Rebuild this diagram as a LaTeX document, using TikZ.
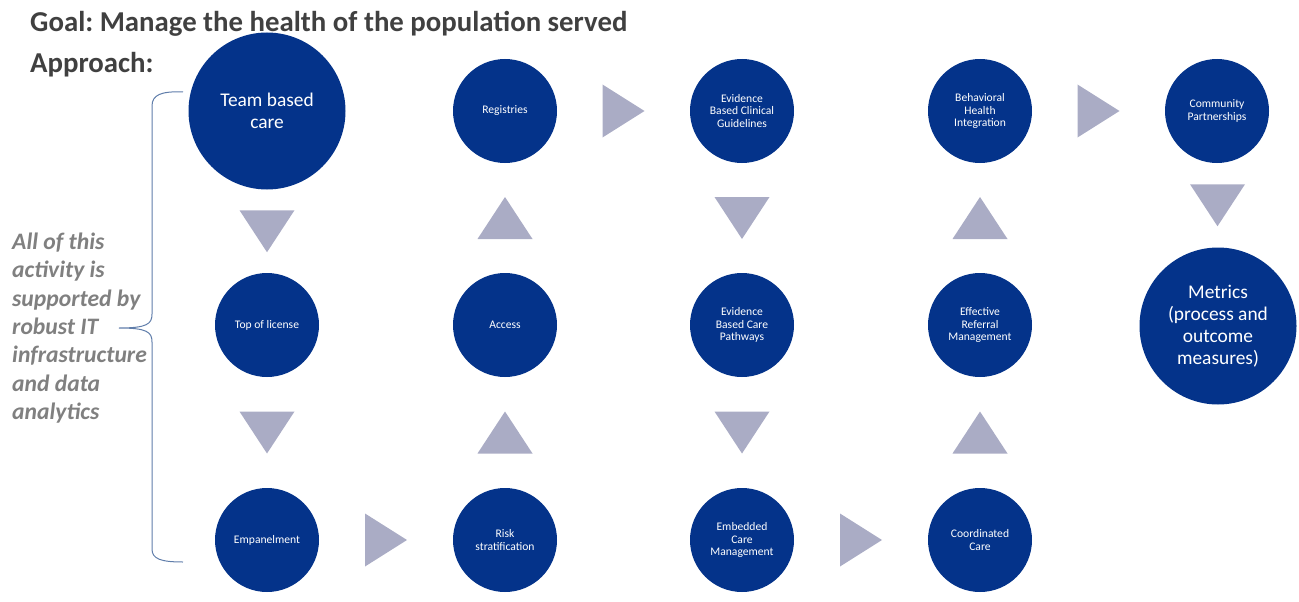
\documentclass[tikz,border=0pt]{standalone}
\usepackage{fontspec}
\setmainfont{Carlito}
\usetikzlibrary{calc}
\frenchspacing

\definecolor{discblue}{RGB}{4,51,138}
\definecolor{arrowgray}{RGB}{170,172,197}
\definecolor{headgray}{RGB}{64,64,64}
\definecolor{notegray}{RGB}{128,128,128}
\definecolor{bracecol}{RGB}{95,125,170}

\tikzset{
  disc/.style={circle, fill=discblue, text=white, inner sep=0pt,
    minimum size=104pt, align=center,
    font=\fontsize{11.6}{12.5}\selectfont},
  bigdisc/.style={disc, minimum size=157pt,
    font=\fontsize{19.4}{22}\selectfont},
  heading/.style={anchor=base west, inner sep=0pt, text=headgray,
    font=\fontsize{28.8}{34}\selectfont\bfseries},
  pics/tridown/.style={code={\fill[arrowgray] (-27.5,-21) -- (27.5,-21) -- (0,21) -- cycle;}},
  pics/triup/.style={code={\fill[arrowgray] (-27.5,21) -- (27.5,21) -- (0,-21) -- cycle;}},
  pics/triright/.style={code={\fill[arrowgray] (-21,-26.5) -- (-21,26.5) -- (21,0) -- cycle;}},
}

\begin{document}
\begin{tikzpicture}[x=1pt, y=-1pt]
  \useasboundingbox (0,0) rectangle (1299,602);

  % headings
  \node[heading] (goal) at (30,32) {Goal: Manage the health of the population served};
  \node[heading] (approach) at (30,73) {Approach:};

  % column 1
  \node[bigdisc] (team) at (267,111) {Team based\\care};
  \node[disc] (license) at (267,325) {Top of license};
  \node[disc] (empanel) at (267,540) {Empanelment};
  % column 2
  \node[disc] (registry) at (505,111) {Registries};
  \node[disc] (access) at (505,325) {Access};
  \node[disc] (risk) at (505,540) {Risk\\stratification};
  % column 3
  \node[disc] (clinical) at (742,111) {Evidence\\Based Clinical\\Guidelines};
  \node[disc] (pathways) at (742,325) {Evidence\\Based Care\\Pathways};
  \node[disc] (embedded) at (742,540) {Embedded\\Care\\Management};
  % column 4
  \node[disc] (behavioral) at (980,111) {Behavioral\\Health\\Integration};
  \node[disc] (referral) at (980,325) {Effective\\Referral\\Management};
  \node[disc] (coordinated) at (980,540) {Coordinated\\Care};
  % column 5
  \node[disc] (community) at (1217,111) {Community\\Partnerships};
  \node[bigdisc] (metrics) at (1218,326) {Metrics\\(process and\\outcome\\measures)};

  % flow arrows
  \pic at ($(team.south)!0.5!(license.north)$) {tridown};
  \pic at ($(license.south)!0.5!(empanel.north)$) {tridown};
  \pic at ($(empanel.east)!0.5!(risk.west)$) {triright};
  \pic at ($(risk.north)!0.5!(access.south)$) {triup};
  \pic at ($(access.north)!0.5!(registry.south)$) {triup};
  \pic at ($(registry.east)!0.5!(clinical.west)$) {triright};
  \pic at ($(clinical.south)!0.5!(pathways.north)$) {tridown};
  \pic at ($(pathways.south)!0.5!(embedded.north)$) {tridown};
  \pic at ($(embedded.east)!0.5!(coordinated.west)$) {triright};
  \pic at ($(coordinated.north)!0.5!(referral.south)$) {triup};
  \pic at ($(referral.north)!0.5!(behavioral.south)$) {triup};
  \pic at ($(behavioral.east)!0.5!(community.west)$) {triright};
  \pic at ($(community.south)!0.5!(metrics.north)$) {tridown};

  % side note with its brace
  \node[anchor=west, inner sep=0pt, align=left, text=notegray,
        font=\fontsize{23.6}{28.3}\selectfont\bfseries\itshape] (note) at (12,328)
    {All of this\\activity is\\supported by\\robust IT\\infrastructure\\and data\\analytics};

  \coordinate (bracetop) at (183,92);
  \coordinate (bracetip) at (119,328);
  \coordinate (bracebot) at (183,562);
  \draw[bracecol, line width=1pt]
    (bracetop) .. controls (161,91) and (152,95) .. (152,106)
    -- (152,314) .. controls (152,324) and (147,328) .. (bracetip)
    (bracetip) .. controls (147,328) and (152,332) .. (152,342)
    -- (152,549) .. controls (152,559) and (161,562) .. (bracebot);
\end{tikzpicture}
\end{document}
